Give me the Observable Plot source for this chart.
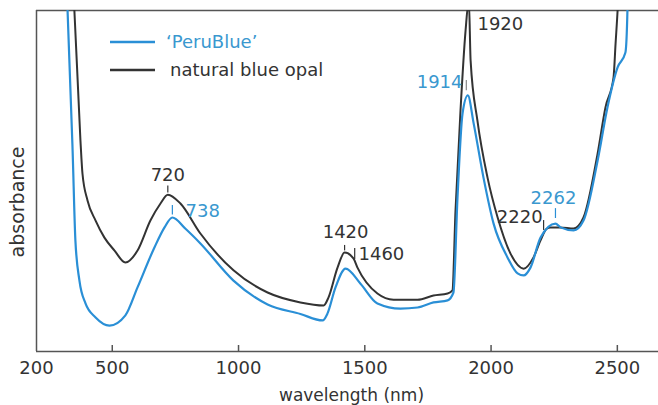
<!DOCTYPE html>
<html><head><meta charset="utf-8">
<script src="https://cdn.jsdelivr.net/npm/d3@7"></script>
<script src="https://cdn.jsdelivr.net/npm/@observablehq/plot@0.6"></script>
<style>html,body{margin:0;padding:0;background:#fff} svg{display:block}</style>
</head><body><div id="chart"></div>
<script>
// 'PeruBlue' spectrum (wavelength nm, absorbance arbitrary units 0-100)
const peruWavelength = [319,323,343,354,370,394,434,489,552,600,667,707,738,790,849,980,1115,1245,1333,1352,1384,1424,1483,1550,1641,1709,1772,1828,1851,1867,1887,1908,1931,1970,2010,2065,2105,2129,2156,2196,2255,2275,2327,2366,2422,2461,2501,2532,2540,2541];
const peruAbsorbance = [106,100,58.9,32.6,20.8,14.1,10.0,7.6,10.6,18.8,30.5,36.4,39.3,36.0,31.7,20.8,13.8,11.0,9.1,11.1,18.8,24.3,19.9,14.1,12.6,12.9,14.4,15.0,17.3,45,69.8,75.1,66.9,51.0,37.5,27.6,22.9,22.3,24.6,33.4,37.5,36.4,35.5,38.4,56.0,71.6,83.3,87.7,100,106];
// natural blue opal spectrum
const naturalWavelength = [345,350,374,382,402,434,469,509,552,600,651,691,720,770,849,980,1115,1245,1337,1356,1392,1420,1455,1471,1550,1614,1709,1772,1828,1847,1859,1879,1899,1912,1919,1946,1986,2026,2077,2129,2168,2196,2220,2235,2275,2327,2366,2422,2453,2485,2493,2501,2505];
const naturalAbsorbance = [106,100,61.9,52.2,44.3,38.4,33.4,29.6,26.1,29.6,38.4,43.4,46.0,43.4,34.6,23.8,17.3,14.4,13.5,15.8,24.6,29.0,27.3,24.6,17.0,15.2,15.2,16.4,17.0,17.9,41,70.7,94.1,103,85.3,67.7,51.0,39.3,28.7,24.3,27.6,32.6,36.0,36.4,36.4,36.1,39.3,58.1,71.6,80.4,90.3,100,106];

const xTicks = [200, 500, 1000, 1500, 2000, 2500];

// peak annotations
const peakText = ["720", "738", "1420", "1460", "1920", "1914", "2220", "2262"];
const peakSeries = ["natural", "peru", "natural", "natural", "natural", "peru", "natural", "peru"];
const peakTextX = [720, 790, 1424, 1475, 1946, 1887, 2204, 2247];
const peakTextY = [51.6, 41.1, 34.9, 28.4, 95.9, 78.9, 39.3, 44.9];
const peakAnchor = ["middle", "start", "middle", "start", "start", "end", "end", "middle"];
const markX = [720, 738, 1420, 1460, 1902, 2208, 2255];
const markY1 = [46.5, 40.0, 29.5, 27.0, 76.5, 35.5, 39.0];
const markY2 = [48.5, 42.8, 31.1, 30.2, 79.5, 38.4, 41.9];
const markSeries = ["natural", "peru", "natural", "natural", "marker", "natural", "peru"];

const legendNames = ["\u2018PeruBlue\u2019", "natural blue opal"];

const BLUE = "#2a8fd6", BLUE_TEXT = "#3a98cf", DARK = "#333333", FRAME = "#555555";
const colorOf = s => s === "peru" ? BLUE : s === "marker" ? "#888" : DARK;
const textColorOf = s => s === "peru" ? BLUE_TEXT : DARK;

const rows = (ws, as) => ws.map((w, i) => ({wavelength: w, absorbance: as[i]}));
const peru = rows(peruWavelength, peruAbsorbance);
const natural = rows(naturalWavelength, naturalAbsorbance);
const peaks = peakText.map((t, i) => ({t, x: peakTextX[i], y: peakTextY[i], s: peakSeries[i], a: peakAnchor[i]}));
const marks = markX.map((x, i) => ({x, y1: markY1[i], y2: markY2[i], s: markSeries[i]}));

const FONT = "DejaVu Sans, sans-serif";

const chart = Plot.plot({
  width: 658, height: 405,
  marginLeft: 36, marginRight: 0, marginTop: 10, marginBottom: 54,
  style: {fontFamily: FONT, fontSize: "18px", color: DARK, background: "#fff"},
  x: {domain: [200, 2663]},
  y: {domain: [0, 100], axis: null},
  marks: [
    Plot.axisX({ticks: xTicks, tickSize: 0, tickPadding: 10, tickFormat: d => String(d), fontSize: 18, label: null, fill: DARK}),
    Plot.ruleX(xTicks.filter(t => t > 200), {insetTop: 335, stroke: FRAME, strokeWidth: 1.5}),
    Plot.ruleY([0], {stroke: FRAME, strokeWidth: 1.5}),
    Plot.ruleY([100], {stroke: FRAME, strokeWidth: 1.5}),
    Plot.ruleX([200], {stroke: FRAME, strokeWidth: 1.5}),
    Plot.line(natural, {x: "wavelength", y: "absorbance", stroke: DARK, strokeWidth: 2, curve: "monotone-x", clip: true}),
    Plot.line(peru, {x: "wavelength", y: "absorbance", stroke: BLUE, strokeWidth: 2.2, curve: "monotone-x", clip: true}),
    Plot.ruleX(marks, {x: "x", y1: "y1", y2: "y2", stroke: d => colorOf(d.s), strokeWidth: 1.2}),
    Plot.text(peaks.filter(d => d.a === "start"), {x: "x", y: "y", text: "t", fill: d => textColorOf(d.s), textAnchor: "start", fontSize: 18}),
    Plot.text(peaks.filter(d => d.a === "middle"), {x: "x", y: "y", text: "t", fill: d => textColorOf(d.s), textAnchor: "middle", fontSize: 18}),
    Plot.text(peaks.filter(d => d.a === "end"), {x: "x", y: "y", text: "t", fill: d => textColorOf(d.s), textAnchor: "end", fontSize: 18}),
    Plot.text(["wavelength (nm)"], {frameAnchor: "bottom", lineAnchor: "middle", textAnchor: "middle", dx: 4, dy: 44, fontSize: 17, fill: DARK}),
    Plot.text(["absorbance"], {frameAnchor: "left", lineAnchor: "middle", textAnchor: "middle", rotate: -90, dx: -19, dy: 21, fontSize: 19, fill: DARK})
  ]
});
document.getElementById("chart").appendChild(chart);

// legend inside the plot area
const svg = d3.select(chart);
const lg = svg.append("g").attr("font-family", FONT).attr("font-size", 18).attr("text-anchor", "start");
const legendColors = [BLUE, DARK];
const legendTextColors = [BLUE_TEXT, DARK];
legendNames.forEach((name, i) => {
  const y = 42 + i * 28;
  lg.append("line").attr("x1", 110).attr("x2", 155).attr("y1", y).attr("y2", y)
    .attr("stroke", legendColors[i]).attr("stroke-width", 2.5);
  lg.append("text").attr("x", i === 0 ? 166 : 170).attr("y", y).attr("dy", "0.35em")
    .attr("text-anchor", "start").attr("fill", legendTextColors[i]).text(name);
});
</script>
</body></html>
